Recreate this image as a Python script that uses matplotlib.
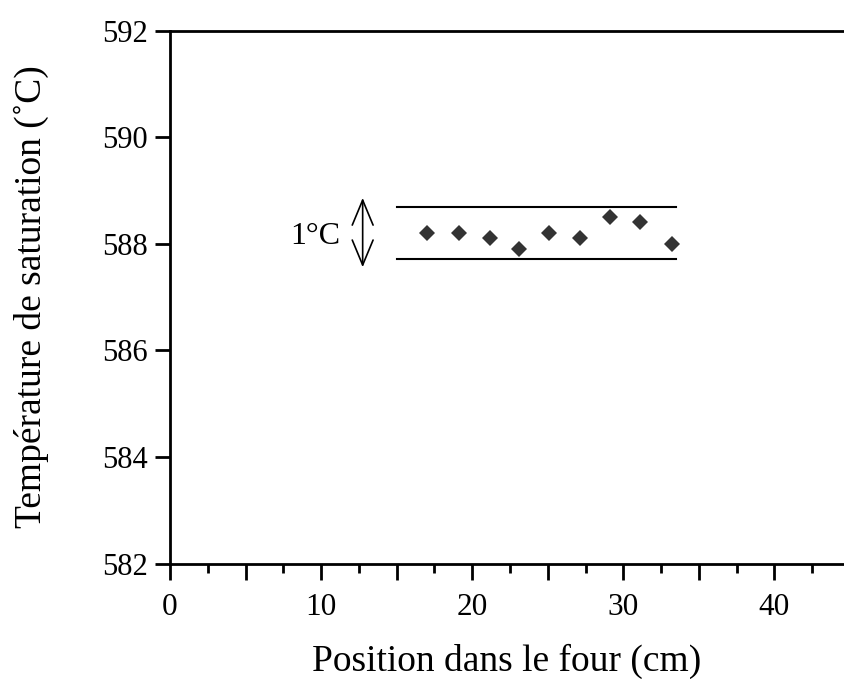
import numpy as np
import matplotlib
matplotlib.use('Agg')
import matplotlib.pyplot as plt
from matplotlib.ticker import MultipleLocator

plt.rcParams['font.family'] = ['Liberation Serif', 'DejaVu Serif']

# measured points
position = [17.0, 19.1, 21.2, 23.1, 25.1, 27.1, 29.1, 31.1, 33.2]
temperature = [588.2, 588.2, 588.1, 587.9, 588.2, 588.1, 588.5, 588.4, 588.0]

# 1 degree band
band_x = [15.0, 33.5]
band_low = 587.72
band_high = 588.69

fig = plt.figure(figsize=(8.44, 6.79), dpi=100)
ax = fig.add_axes([0.2014, 0.170, 0.7986, 0.785])

ax.plot(band_x, [band_high, band_high], color='black', lw=1.5)
ax.plot(band_x, [band_low, band_low], color='black', lw=1.5)
ax.plot(position, temperature, 'D', color='#333333', markersize=8, markeredgewidth=0)

ax.annotate('', xy=(12.75, 588.86), xytext=(12.75, 587.56),
            arrowprops=dict(arrowstyle='<->,head_length=0.6,head_width=0.25',
                            color='black', lw=1.2,
                            mutation_scale=30, shrinkA=0, shrinkB=0))
ax.text(9.6, 588.13, '1°C', fontsize=23, ha='center', va='center')

ax.set_xlim(0, 44.6)
ax.set_ylim(582, 592)
ax.xaxis.set_minor_locator(MultipleLocator(2.5))
ax.set_xticks([0, 5, 10, 15, 20, 25, 30, 35, 40])
ax.set_xticklabels(['0', '', '10', '', '20', '', '30', '', '40'])
ax.set_yticks([582, 584, 586, 588, 590, 592])

ax.spines['right'].set_visible(False)
for s in ['left', 'bottom', 'top']:
    ax.spines[s].set_linewidth(2)

ax.tick_params(axis='x', which='major', direction='out', length=11.5, width=2,
               labelsize=22.5, pad=10)
ax.tick_params(axis='y', which='major', direction='out', length=11, width=2,
               labelsize=22, pad=5)
ax.tick_params(axis='x', which='minor', direction='out', length=6.5, width=2)
ax.tick_params(axis='y', which='minor', length=0)

ax.set_xlabel('Position dans le four (cm)', fontsize=27, labelpad=15)
ax.set_ylabel('Température de saturation (˚C)', fontsize=27, labelpad=38)

fig.savefig('out.png', dpi=100)
